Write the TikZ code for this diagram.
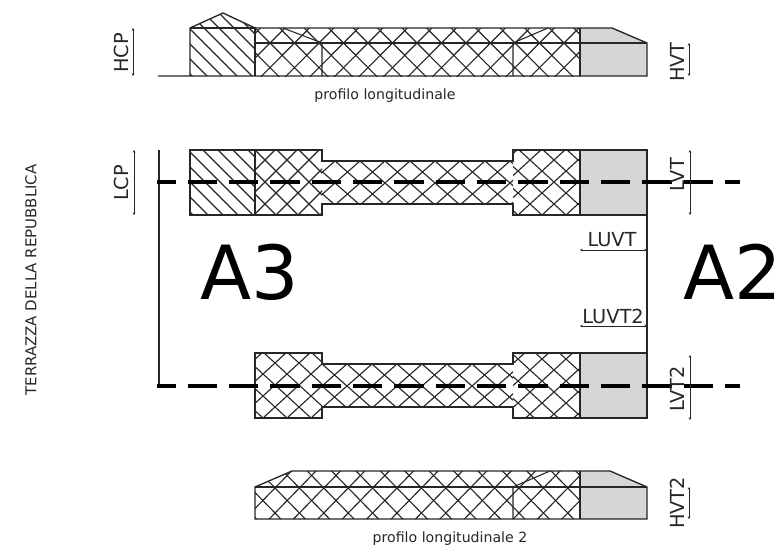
\documentclass[tikz,border=0pt]{standalone}
\usepackage{fontspec}
\setmainfont{DejaVu Sans}
\usetikzlibrary{arrows.meta}
\definecolor{inkline}{HTML}{262626}
\definecolor{fillgrey}{HTML}{D6D6D6}
\tikzset{
  outline/.style={draw=inkline, line width=1pt},
  hatchline/.style={draw=inkline, line width=0.85pt},
  thinline/.style={draw=inkline, line width=0.8pt},
  cutline/.style={draw=black, line width=2.3pt, dash pattern=on 22pt off 9pt, dash phase=8pt},
  dimline/.style={draw=inkline, line width=0.6pt, {Stealth[length=2pt,width=2pt]}-{Stealth[length=2pt,width=2pt]}},
  dimlabel/.style={font=\fontsize{14.5}{16}\selectfont, text=inkline, inner sep=0pt},
  sidelabel/.style={dimlabel, rotate=90},
  sheetlabel/.style={font=\fontsize{10.6}{12}\selectfont, text=inkline, inner sep=0pt},
  zonelabel/.style={font=\fontsize{56}{60}\selectfont, text=black, inner sep=0pt},
}
% hatching through one crossing point (x, y, half step x, half step y), to be clipped
\newcommand{\crosslines}[4]{
  \foreach \k in {-20,...,20} {
    \draw[hatchline] (#1+\k*2*#3-20*#3, #2-20*#4) -- ++(40*#3, 40*#4);
    \draw[hatchline] (#1+\k*2*#3+20*#3, #2-20*#4) -- ++(-40*#3, 40*#4);
  }
}
\newcommand{\slantlines}[2]{
  \foreach \k in {-15,...,15} {
    \draw[hatchline] (#1+\k*15-200, #2-200) -- ++(400,400);
  }
}
\begin{document}
\begin{tikzpicture}[x=0.75pt, y=-0.75pt]
  \useasboundingbox (0,0) rectangle (783,553);

  % vertices, top profile
  \coordinate (pa) at (190,76);
  \coordinate (pb) at (190,28);
  \coordinate (pc) at (223,13);
  \coordinate (pd) at (255,28);
  \coordinate (pe) at (612,28);
  \coordinate (pf) at (647,43);
  \coordinate (pg) at (647,76);
  \coordinate (ph) at (255,76);
  \coordinate (pi) at (580,28);
  \coordinate (pj) at (580,76);
  \coordinate (pk) at (255,43);
  \coordinate (pl) at (322,43);
  \coordinate (pm) at (513,43);
  \coordinate (pn) at (322,76);
  \coordinate (po) at (513,76);
  \coordinate (pp) at (283,28);
  \coordinate (pq) at (548,28);
  \coordinate (pr) at (158,76);

  % top profile
  \fill[fillgrey] (pi) -- (pe) -- (pf) -- (pg) -- (pj) -- cycle;
  \begin{scope}
    \clip (pa) -- (pb) -- (pc) -- (pd) -- (ph) -- cycle;
    \slantlines{207}{76}
  \end{scope}
  \begin{scope}
    \clip (pd) -- (pi) -- (pj) -- (ph) -- cycle;
    \crosslines{270}{43}{12.25}{12.3}
  \end{scope}
  \draw[outline] (pr) -- (pg) -- (pf) -- (pe) -- (pd) -- (pc) -- (pb) -- (pa);
  \draw[outline] (pb) -- (pd) -- (ph);
  \draw[outline] (pi) -- (pj);
  \draw[thinline] (pk) -- (pf);
  \draw[thinline] (pp) -- (pl) -- (pn);
  \draw[thinline] (pq) -- (pm) -- (po);

  % vertices, top plan
  \coordinate (ta) at (190,150);
  \coordinate (tb) at (322,150);
  \coordinate (tc) at (322,161);
  \coordinate (td) at (513,161);
  \coordinate (te) at (513,150);
  \coordinate (tf) at (647,150);
  \coordinate (tg) at (647,215);
  \coordinate (th) at (513,215);
  \coordinate (ti) at (513,204);
  \coordinate (tj) at (322,204);
  \coordinate (tk) at (322,215);
  \coordinate (tl) at (190,215);
  \coordinate (tm) at (255,150);
  \coordinate (tn) at (255,215);
  \coordinate (to) at (580,150);
  \coordinate (tp) at (580,215);

  % top plan
  \fill[fillgrey] (to) rectangle (tg);
  \begin{scope}
    \clip (ta) rectangle (tn);
    \slantlines{203}{150}
  \end{scope}
  \begin{scope}
    \clip (tm) rectangle (tk);
    \crosslines{287}{160}{11}{11}
  \end{scope}
  \begin{scope}
    \clip (tc) rectangle (ti);
    \crosslines{335}{161}{12.5}{11}
  \end{scope}
  \begin{scope}
    \clip (te) rectangle (tp);
    \crosslines{530}{160}{12}{11}
  \end{scope}
  \draw[outline] (ta) -- (tb) -- (tc) -- (td) -- (te) -- (tf) -- (tg) -- (th) -- (ti) -- (tj) -- (tk) -- (tl) -- cycle;
  \draw[outline] (tm) -- (tn);
  \draw[outline] (to) -- (tp);

  % vertices, bottom plan
  \coordinate (ua) at (255,353);
  \coordinate (ub) at (322,353);
  \coordinate (uc) at (322,364);
  \coordinate (ud) at (513,364);
  \coordinate (ue) at (513,353);
  \coordinate (uf) at (647,353);
  \coordinate (ug) at (647,418);
  \coordinate (uh) at (513,418);
  \coordinate (ui) at (513,407);
  \coordinate (uj) at (322,407);
  \coordinate (uk) at (322,418);
  \coordinate (ul) at (255,418);
  \coordinate (uo) at (580,353);
  \coordinate (up) at (580,418);

  % bottom plan
  \fill[fillgrey] (uo) rectangle (ug);
  \begin{scope}
    \clip (ua) rectangle (uk);
    \crosslines{275}{363}{12}{11}
  \end{scope}
  \begin{scope}
    \clip (uc) rectangle (ui);
    \crosslines{347}{386}{12.5}{11}
  \end{scope}
  \begin{scope}
    \clip (ue) rectangle (up);
    \crosslines{530}{370}{12}{11}
  \end{scope}
  \draw[outline] (ua) -- (ub) -- (uc) -- (ud) -- (ue) -- (uf) -- (ug) -- (uh) -- (ui) -- (uj) -- (uk) -- (ul) -- cycle;
  \draw[outline] (uo) -- (up);

  % vertices, bottom profile
  \coordinate (sa) at (255,487);
  \coordinate (sb) at (292,471);
  \coordinate (sc) at (610,471);
  \coordinate (sd) at (647,487);
  \coordinate (se) at (647,519);
  \coordinate (sf) at (255,519);
  \coordinate (sg) at (580,471);
  \coordinate (sh) at (580,519);
  \coordinate (si) at (513,487);
  \coordinate (sj) at (513,519);
  \coordinate (sk) at (550,471);

  % bottom profile
  \fill[fillgrey] (sg) -- (sc) -- (sd) -- (se) -- (sh) -- cycle;
  \begin{scope}
    \clip (sa) -- (sb) -- (sg) -- (sh) -- (sf) -- cycle;
    \crosslines{275}{488}{12.2}{12.5}
  \end{scope}
  \draw[outline] (sa) -- (sb) -- (sc) -- (sd) -- (se) -- (sf) -- cycle;
  \draw[outline] (sg) -- (sh);
  \draw[thinline] (sa) -- (sd);
  \draw[thinline] (sk) -- (si) -- (sj);

  % boundaries and cut lines
  \coordinate (la) at (159,150);
  \coordinate (lb) at (159,387);
  \coordinate (ca) at (157,182);
  \coordinate (cb) at (740,182);
  \coordinate (da) at (157,386);
  \coordinate (db) at (740,386);
  \draw[outline] (la) -- (lb);
  \draw[outline] (tg) -- (uf);
  \draw[cutline] (ca) -- (cb);
  \draw[cutline] (da) -- (db);

  % dimension lines
  \coordinate (hcpa) at (133,28);
  \coordinate (hcpb) at (133,76);
  \coordinate (hvta) at (689,43);
  \coordinate (hvtb) at (689,76);
  \coordinate (lcpa) at (134,150);
  \coordinate (lcpb) at (134,215);
  \coordinate (lvta) at (690,150);
  \coordinate (lvtb) at (690,215);
  \coordinate (lvtc) at (690,355);
  \coordinate (lvtd) at (690,420);
  \coordinate (hvtc) at (689,487);
  \coordinate (hvtd) at (689,519);
  \coordinate (luva) at (580,250);
  \coordinate (luvb) at (647,250);
  \coordinate (luvc) at (580,326);
  \coordinate (luvd) at (647,326);
  \draw[dimline] (hcpa) -- (hcpb);
  \draw[dimline] (hvta) -- (hvtb);
  \draw[dimline] (lcpa) -- (lcpb);
  \draw[dimline] (lvta) -- (lvtb);
  \draw[dimline] (lvtc) -- (lvtd);
  \draw[dimline] (hvtc) -- (hvtd);
  \draw[dimline] (luva) -- (luvb);
  \draw[dimline] (luvc) -- (luvd);

  % labels
  \node[sidelabel] (hcp) at (121,53) {HCP};
  \node[sidelabel] (hvt) at (677,62) {HVT};
  \node[sidelabel] (lcp) at (121,183) {LCP};
  \node[sidelabel] (lvt) at (677,175) {LVT};
  \node[sidelabel] (lvt2) at (677,389) {LVT2};
  \node[sidelabel] (hvt2) at (677,503) {HVT2};
  \node[dimlabel] (luvt) at (612,240) {LUVT};
  \node[dimlabel] (luvt2) at (613,316) {LUVT2};
  \node[sheetlabel] (pl1) at (385,96) {profilo longitudinale};
  \node[sheetlabel] (pl2) at (450,539) {profilo longitudinale 2};
  \node[sheetlabel, rotate=90, font=\fontsize{11.2}{12}\selectfont] (terrazza) at (31,280) {TERRAZZA DELLA REPUBBLICA};
  \node[zonelabel] (a3) at (250,272) {A3};
  \node[zonelabel] (a2) at (733,272) {A2};
\end{tikzpicture}
\end{document}
